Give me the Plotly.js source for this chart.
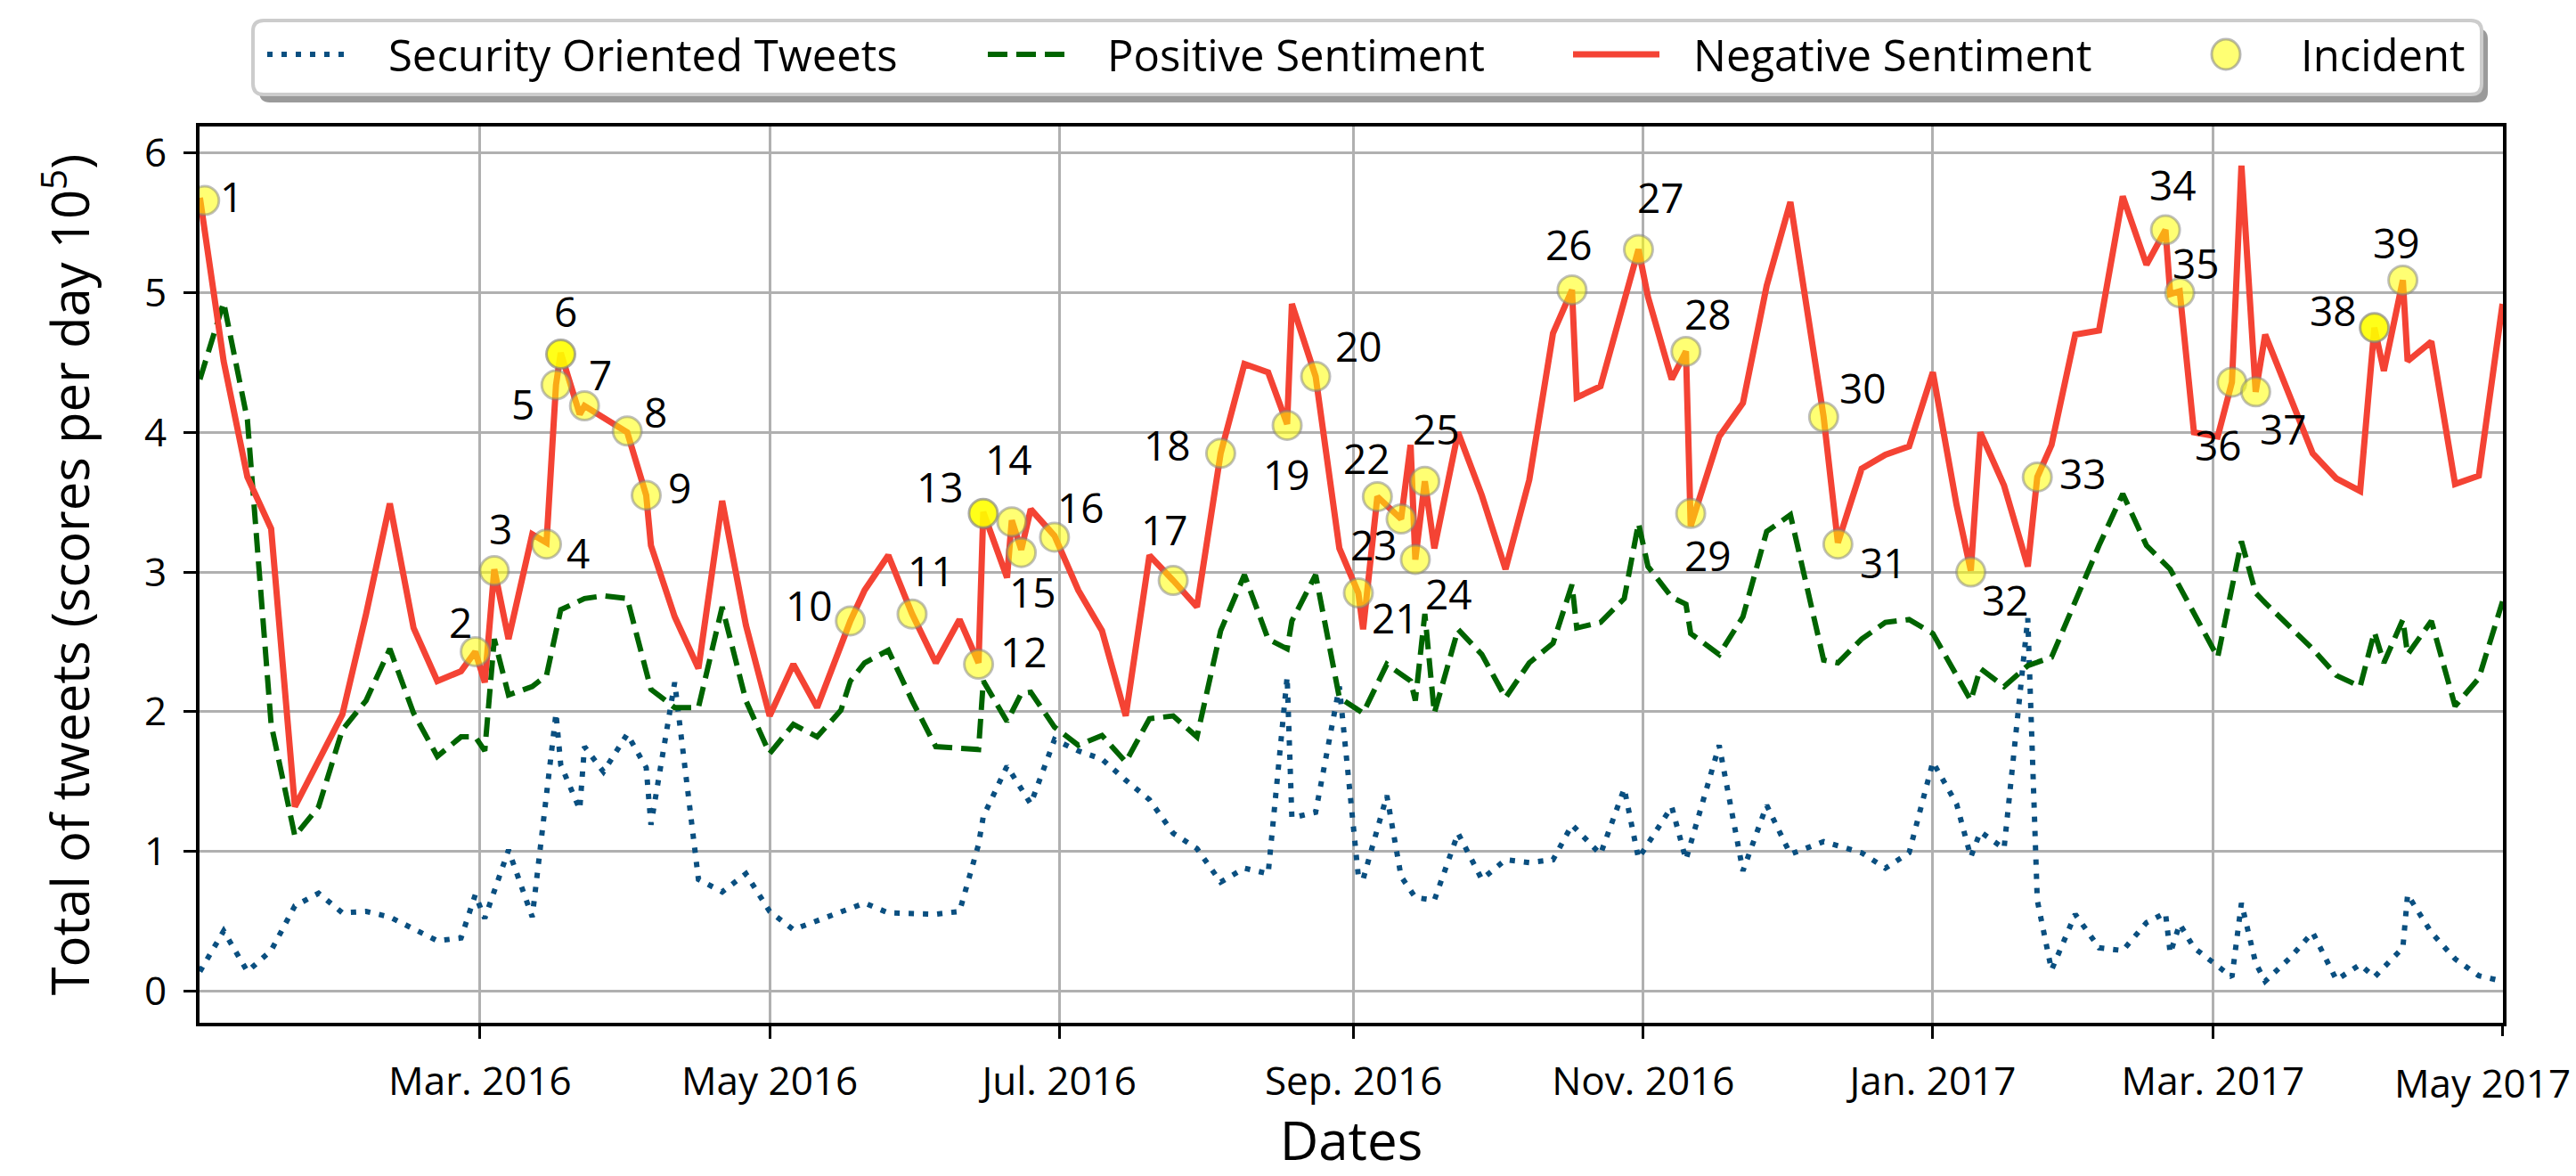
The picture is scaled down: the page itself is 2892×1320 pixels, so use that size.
<!DOCTYPE html>
<html>
<head>
<meta charset="utf-8">
<script src="https://cdn.plot.ly/plotly-3.0.1.min.js"></script>
<style>html,body{margin:0;padding:0;background:#fff;}#chart{width:2892px;height:1320px;}</style>
</head>
<body>
<div id="chart"></div>
<script>
// ---------------- data ----------------
const seriesNames = ['Security Oriented Tweets', 'Positive Sentiment', 'Negative Sentiment', 'Incident'];

const negDates = ['2016-01-02','2016-01-07','2016-01-12','2016-01-17','2016-01-22','2016-02-01','2016-02-06','2016-02-11','2016-02-16','2016-02-21','2016-02-26','2016-02-29','2016-03-02','2016-03-04','2016-03-07','2016-03-12','2016-03-15','2016-03-17','2016-03-18','2016-03-22','2016-03-23','2016-04-01','2016-04-05','2016-04-06','2016-04-11','2016-04-16','2016-04-21','2016-04-26','2016-05-01','2016-05-06','2016-05-11','2016-05-18','2016-05-21','2016-05-26','2016-05-31','2016-06-05','2016-06-10','2016-06-14','2016-06-15','2016-06-20','2016-06-21','2016-06-23','2016-06-25','2016-06-30','2016-07-05','2016-07-10','2016-07-15','2016-07-20','2016-07-25','2016-07-30','2016-08-04','2016-08-09','2016-08-14','2016-08-18','2016-08-19','2016-08-24','2016-08-29','2016-09-02','2016-09-03','2016-09-06','2016-09-11','2016-09-13','2016-09-14','2016-09-16','2016-09-18','2016-09-23','2016-09-28','2016-10-03','2016-10-08','2016-10-13','2016-10-17','2016-10-18','2016-10-23','2016-10-31','2016-11-02','2016-11-07','2016-11-10','2016-11-11','2016-11-17','2016-11-22','2016-11-27','2016-12-02','2016-12-09','2016-12-12','2016-12-17','2016-12-22','2016-12-27','2017-01-01','2017-01-06','2017-01-09','2017-01-11','2017-01-16','2017-01-21','2017-01-23','2017-01-26','2017-01-31','2017-02-05','2017-02-10','2017-02-15','2017-02-19','2017-02-20','2017-02-22','2017-02-25','2017-03-02','2017-03-05','2017-03-07','2017-03-10','2017-03-12','2017-03-22','2017-03-27','2017-04-01','2017-04-04','2017-04-06','2017-04-10','2017-04-11','2017-04-16','2017-04-21','2017-04-26','2017-05-01'];
const negValues = [5.68,4.51,3.68,3.31,1.32,1.98,2.70,3.49,2.60,2.22,2.29,2.43,2.21,3.02,2.52,3.27,3.21,4.34,4.57,4.13,4.19,4.00,3.55,3.19,2.68,2.31,3.51,2.62,1.97,2.34,2.03,2.65,2.87,3.12,2.70,2.35,2.66,2.35,3.43,2.96,3.37,3.16,3.45,3.26,2.87,2.58,1.97,3.12,2.94,2.75,3.85,4.49,4.43,4.06,4.92,4.40,3.17,2.85,2.59,3.54,3.38,3.91,3.09,3.65,3.17,4.00,3.55,3.02,3.66,4.71,5.02,4.25,4.33,5.31,4.97,4.38,4.58,3.33,3.97,4.21,5.05,5.65,4.11,3.21,3.74,3.84,3.90,4.43,3.48,3.01,4.00,3.62,3.04,3.68,3.91,4.70,4.73,5.69,5.20,5.45,4.99,5.01,4.00,3.97,4.36,5.91,4.29,4.70,3.85,3.67,3.58,4.75,4.44,5.09,4.51,4.65,3.63,3.69,4.92];

const posDates = ['2016-01-02','2016-01-07','2016-01-12','2016-01-17','2016-01-22','2016-01-27','2016-02-01','2016-02-06','2016-02-11','2016-02-16','2016-02-21','2016-02-26','2016-02-29','2016-03-02','2016-03-04','2016-03-07','2016-03-12','2016-03-15','2016-03-18','2016-03-23','2016-03-27','2016-04-01','2016-04-06','2016-04-11','2016-04-16','2016-04-21','2016-04-26','2016-05-01','2016-05-06','2016-05-11','2016-05-16','2016-05-18','2016-05-21','2016-05-26','2016-05-31','2016-06-05','2016-06-14','2016-06-15','2016-06-20','2016-06-23','2016-06-25','2016-06-30','2016-07-05','2016-07-10','2016-07-15','2016-07-20','2016-07-25','2016-07-30','2016-08-04','2016-08-09','2016-08-14','2016-08-18','2016-08-19','2016-08-24','2016-08-29','2016-09-03','2016-09-08','2016-09-13','2016-09-14','2016-09-16','2016-09-18','2016-09-23','2016-09-28','2016-10-03','2016-10-08','2016-10-13','2016-10-17','2016-10-18','2016-10-23','2016-10-28','2016-10-31','2016-11-02','2016-11-07','2016-11-10','2016-11-11','2016-11-17','2016-11-22','2016-11-27','2016-12-02','2016-12-09','2016-12-12','2016-12-17','2016-12-22','2016-12-27','2017-01-01','2017-01-09','2017-01-11','2017-01-16','2017-01-21','2017-01-26','2017-01-31','2017-02-05','2017-02-10','2017-02-15','2017-02-20','2017-02-25','2017-03-02','2017-03-07','2017-03-10','2017-03-12','2017-03-17','2017-03-22','2017-03-27','2017-04-01','2017-04-04','2017-04-06','2017-04-10','2017-04-11','2017-04-16','2017-04-21','2017-04-26','2017-05-01'];
const posValues = [4.38,4.93,4.09,1.91,1.11,1.32,1.87,2.08,2.45,1.99,1.68,1.82,1.82,1.72,2.52,2.12,2.18,2.26,2.73,2.81,2.83,2.81,2.16,2.03,2.03,2.75,2.08,1.70,1.91,1.82,2.01,2.22,2.35,2.44,2.08,1.75,1.73,2.22,1.93,2.13,2.14,1.89,1.76,1.83,1.64,1.95,1.97,1.82,2.58,2.98,2.52,2.45,2.65,2.98,2.10,1.99,2.34,2.22,2.08,2.70,1.99,2.59,2.41,2.10,2.35,2.49,2.91,2.60,2.64,2.81,3.35,3.04,2.82,2.77,2.56,2.41,2.68,3.29,3.41,2.37,2.35,2.52,2.64,2.66,2.56,2.08,2.31,2.18,2.33,2.39,2.79,3.19,3.56,3.19,3.02,2.70,2.39,3.22,2.85,2.78,2.62,2.45,2.26,2.18,2.57,2.35,2.66,2.41,2.65,2.04,2.24,2.79];

const secDates = ['2016-01-02','2016-01-07','2016-01-12','2016-01-17','2016-01-22','2016-01-27','2016-02-01','2016-02-06','2016-02-11','2016-02-16','2016-02-21','2016-02-26','2016-02-29','2016-03-02','2016-03-07','2016-03-12','2016-03-17','2016-03-18','2016-03-22','2016-03-23','2016-03-27','2016-04-01','2016-04-05','2016-04-06','2016-04-11','2016-04-16','2016-04-21','2016-04-26','2016-05-01','2016-05-06','2016-05-11','2016-05-16','2016-05-21','2016-05-26','2016-06-05','2016-06-10','2016-06-14','2016-06-15','2016-06-20','2016-06-25','2016-06-30','2016-07-05','2016-07-10','2016-07-15','2016-07-20','2016-07-25','2016-07-30','2016-08-04','2016-08-09','2016-08-14','2016-08-18','2016-08-19','2016-08-24','2016-08-29','2016-09-02','2016-09-03','2016-09-08','2016-09-11','2016-09-14','2016-09-18','2016-09-23','2016-09-28','2016-10-03','2016-10-08','2016-10-13','2016-10-17','2016-10-23','2016-10-28','2016-10-31','2016-11-07','2016-11-10','2016-11-17','2016-11-22','2016-11-27','2016-12-02','2016-12-09','2016-12-17','2016-12-22','2016-12-27','2017-01-01','2017-01-06','2017-01-09','2017-01-11','2017-01-16','2017-01-21','2017-01-23','2017-01-26','2017-01-31','2017-02-05','2017-02-10','2017-02-15','2017-02-19','2017-02-20','2017-02-22','2017-02-25','2017-03-05','2017-03-07','2017-03-10','2017-03-12','2017-03-17','2017-03-22','2017-03-27','2017-04-01','2017-04-04','2017-04-10','2017-04-11','2017-04-16','2017-04-21','2017-04-26','2017-05-01'];
const secValues = [0.14,0.43,0.14,0.29,0.61,0.70,0.56,0.57,0.53,0.44,0.36,0.38,0.69,0.52,1.01,0.53,1.99,1.62,1.30,1.75,1.57,1.84,1.60,1.19,2.21,0.80,0.71,0.84,0.57,0.44,0.50,0.57,0.63,0.56,0.55,0.57,1.05,1.25,1.61,1.34,1.80,1.72,1.66,1.51,1.37,1.13,1.02,0.78,0.88,0.84,2.25,1.24,1.28,2.18,0.82,0.80,1.40,0.82,0.67,0.65,1.13,0.80,0.94,0.92,0.94,1.19,0.98,1.45,0.95,1.32,0.94,1.76,0.86,1.33,0.98,1.07,0.99,0.88,0.99,1.64,1.34,0.96,1.14,1.02,2.67,0.65,0.15,0.55,0.31,0.29,0.49,0.56,0.27,0.48,0.31,0.10,0.63,0.20,0.07,0.23,0.42,0.08,0.19,0.10,0.31,0.69,0.42,0.23,0.11,0.07];

const incidentDates = ['2016-01-03','2016-02-29','2016-03-04','2016-03-15','2016-03-17','2016-03-18','2016-03-23','2016-04-01','2016-04-05','2016-05-18','2016-05-31','2016-06-14','2016-06-15','2016-06-21','2016-06-23','2016-06-30','2016-07-25','2016-08-04','2016-08-18','2016-08-24','2016-09-02','2016-09-06','2016-09-11','2016-09-14','2016-09-16','2016-10-17','2016-10-31','2016-11-10','2016-11-11','2016-12-09','2016-12-12','2017-01-09','2017-01-23','2017-02-19','2017-02-22','2017-03-05','2017-03-10','2017-04-04','2017-04-10'];
const incidentValues = [5.66,2.43,3.01,3.20,4.34,4.56,4.19,4.01,3.55,2.65,2.70,2.34,3.42,3.36,3.14,3.25,2.94,3.85,4.05,4.40,2.85,3.54,3.38,3.09,3.65,5.02,5.31,4.58,3.42,4.11,3.20,3.00,3.68,5.45,5.00,4.36,4.29,4.75,5.09];
const incidentLabels = ['1','2','3','4','5','6','7','8','9','10','11','12','13','14','15','16','17','18','19','20','21','22','23','24','25','26','27','28','29','30','31','32','33','34','35','36','37','38','39'];

const xTickDates = ['2016-03-01','2016-05-01','2016-07-01','2016-09-01','2016-11-01','2017-01-01','2017-03-01','2017-05-01'];
const xTickLabels = ['Mar. 2016','May 2016','Jul. 2016','Sep. 2016','Nov. 2016','Jan. 2017','Mar. 2017','May 2017'];
const yTicks = [0,1,2,3,4,5,6];

// ---------------- styling (not data) ----------------
// label offsets (px) of the incident numbers relative to their markers: [dx, dy(down)]
const labelOffsets = [[30,-5],[-17,-33],[7,-48],[35,9],[-37,21],[5,-49],[18,-36],[32,-22],[38,-9],[-46,-18],[22,-49],[51,-15],[-48,-30],[-3,-71],[13,44],[30,-34],[-10,-58],[-60,-10],[-1,55],[48,-35],[41,27],[-12,-43],[-30,28],[38,38],[13,-59],[-3,-51],[25,-59],[25,-42],[19,47],[44,-33],[51,20],[39,31],[51,-5],[8,-51],[18,-34],[-15,70],[31,41],[-46,-20],[-7,-42]];
const strongMarkers = ['6','13','38'];

const FONT = 'Open Sans, Noto Sans, sans-serif';
const C_SEC = '#0a4f80', C_POS = '#006400', C_NEG = '#f44334';

const PL = 224, PT = 142, PW = 2586, PH = 1006;
const pxX = v => (v - PL) / PW;
const pxY = v => (PT + PH - v) / PH;

function roundRect(x0, y0, x1, y1, r) {
  const P = (x, y) => pxX(x) + ',' + pxY(y);
  return 'M' + P(x0 + r, y0) + ' L' + P(x1 - r, y0) + ' Q' + P(x1, y0) + ' ' + P(x1, y0 + r) +
    ' L' + P(x1, y1 - r) + ' Q' + P(x1, y1) + ' ' + P(x1 - r, y1) +
    ' L' + P(x0 + r, y1) + ' Q' + P(x0, y1) + ' ' + P(x0, y1 - r) +
    ' L' + P(x0, y0 + r) + ' Q' + P(x0, y0) + ' ' + P(x0 + r, y0) + ' Z';
}

const isStrong = incidentLabels.map(l => strongMarkers.includes(l));

// the negative-sentiment line and the incidents sit on an overlaid x axis with the same range
// (that axis carries the last date label, right-aligned to the border as in the original)
const traces = [
  {x: secDates, y: secValues, name: seriesNames[0], type: 'scatter', mode: 'lines',
   line: {color: C_SEC, width: 6, dash: '6px,10px'}, showlegend: false},
  {x: posDates, y: posValues, name: seriesNames[1], type: 'scatter', mode: 'lines',
   line: {color: C_POS, width: 6, dash: '22px,10px'}, showlegend: false},
  {x: negDates, y: negValues, name: seriesNames[2], type: 'scatter', mode: 'lines', xaxis: 'x2',
   line: {color: C_NEG, width: 7}, showlegend: false},
  {x: incidentDates, y: incidentValues, name: seriesNames[3], type: 'scatter', mode: 'markers', xaxis: 'x2',
   text: incidentLabels, hoverinfo: 'text+x+y',
   marker: {size: 32,
            color: isStrong.map(s => s ? 'rgba(255,255,0,0.9)' : 'rgba(255,255,0,0.55)'),
            line: {color: isStrong.map(s => s ? 'rgba(128,128,128,0.65)' : 'rgba(128,128,128,0.5)'), width: 3}},
   showlegend: false}
];

const annotations = incidentLabels.map((t, i) => ({
  x: incidentDates[i], y: incidentValues[i], xref: 'x2', yref: 'y', text: t, showarrow: false,
  xanchor: 'center', yanchor: 'middle', xshift: labelOffsets[i][0], yshift: -labelOffsets[i][1],
  font: {family: FONT, size: 46, color: '#000'}
}));

// hand-built legend (matches the boxed, shadowed legend of the original)
const legendY = 61;
const legendTextX = [434, 1241, 1899, 2581];
legendTextX.forEach((x, i) => annotations.push({
  xref: 'paper', yref: 'paper', x: pxX(x), y: pxY(legendY), xanchor: 'left', yanchor: 'middle',
  text: seriesNames[i], showarrow: false, font: {family: FONT, size: 49, color: '#000'}
}));

const shapes = [
  {type: 'path', xref: 'paper', yref: 'paper', path: roundRect(291, 32, 2793, 115, 12),
   fillcolor: '#9a9a9a', line: {width: 0}, layer: 'above'},
  {type: 'path', xref: 'paper', yref: 'paper', path: roundRect(284, 23, 2786, 106, 12),
   fillcolor: '#ffffff', line: {color: '#cccccc', width: 4}, layer: 'above'},
  {type: 'line', xref: 'paper', yref: 'paper', x0: pxX(300), x1: pxX(392), y0: pxY(legendY), y1: pxY(legendY),
   line: {color: C_SEC, width: 6, dash: '6px,10px'}, layer: 'above'},
  {type: 'line', xref: 'paper', yref: 'paper', x0: pxX(1109), x1: pxX(1195), y0: pxY(legendY), y1: pxY(legendY),
   line: {color: C_POS, width: 6, dash: '22px,10px'}, layer: 'above'},
  {type: 'line', xref: 'paper', yref: 'paper', x0: pxX(1766), x1: pxX(1863), y0: pxY(legendY), y1: pxY(legendY),
   line: {color: C_NEG, width: 7}, layer: 'above'},
  {type: 'circle', xref: 'paper', yref: 'paper', x0: pxX(2499 - 16), x1: pxX(2499 + 16), y0: pxY(legendY + 17), y1: pxY(legendY - 17),
   fillcolor: 'rgba(255,255,0,0.55)', line: {color: 'rgba(128,128,128,0.55)', width: 3}, layer: 'above'}
];

const axisCommon = {
  zeroline: false,
  ticks: 'outside', ticklen: 14, tickwidth: 3, tickcolor: '#000',
  tickfont: {family: FONT, size: 44, color: '#000'}, automargin: false
};
const frame = {showgrid: true, gridcolor: '#b0b0b0', gridwidth: 3, showline: true, linecolor: '#000', linewidth: 4, mirror: true};

const lastTick = xTickLabels.length - 1;
const xRange = ['2016-01-01 22:00', '2017-05-01 02:00'];

const layout = {
  width: 2892, height: 1320,
  margin: {l: PL, r: 2892 - PL - PW, t: PT, b: 1320 - PT - PH, pad: 0},
  paper_bgcolor: '#fff', plot_bgcolor: '#fff',
  showlegend: false,
  font: {family: FONT, color: '#000'},
  xaxis: Object.assign({}, axisCommon, frame, {
    type: 'date', range: xRange,
    tickmode: 'array', tickvals: xTickDates.slice(0, lastTick), ticktext: xTickLabels.slice(0, lastTick),
    ticklabelstandoff: 10,
    title: {text: 'Dates', font: {family: FONT, size: 60, color: '#000'}, standoff: 6}
  }),
  xaxis2: Object.assign({}, axisCommon, {
    type: 'date', range: xRange, overlaying: 'x', anchor: 'y', side: 'bottom',
    showgrid: false, showline: false,
    tickmode: 'array', tickvals: xTickDates.slice(lastTick), ticktext: xTickLabels.slice(lastTick),
    ticklabelposition: 'outside left', ticklabelshift: 78, ticklabelstandoff: 30, ticklabeloverflow: 'allow'
  }),
  yaxis: Object.assign({}, axisCommon, frame, {
    range: [-0.227, 6.19], tickmode: 'array', tickvals: yTicks, ticktext: yTicks.map(String), ticklabelstandoff: 10,
    title: {text: 'Total of tweets (scores per day 10<sup>5</sup>)', font: {family: FONT, size: 58, color: '#000'}, standoff: 44}
  }),
  annotations: annotations,
  shapes: shapes
};

Plotly.newPlot('chart', traces, layout, {staticPlot: true, displayModeBar: false});
</script>
</body>
</html>
